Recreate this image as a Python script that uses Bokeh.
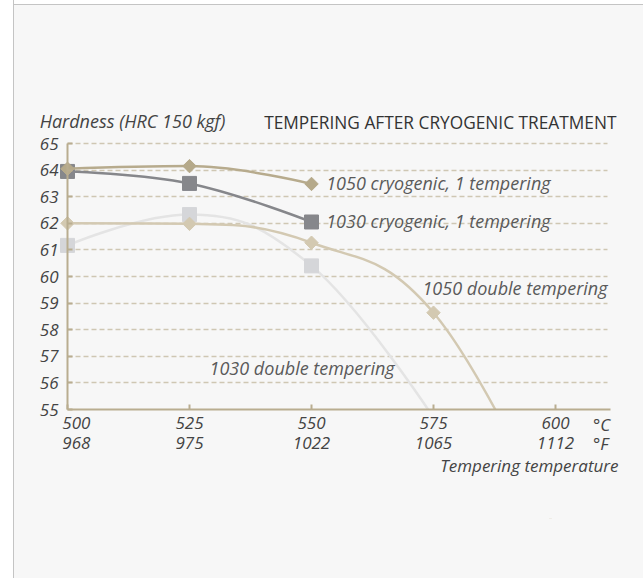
import numpy as np
from bokeh.plotting import figure
from bokeh.models import ColumnDataSource, FixedTicker, Label, Range1d, BoxAnnotation
from bokeh.embed import file_html
from bokeh.resources import INLINE

# ---------------- data ----------------
temps_c = [500, 525, 550, 575, 600]
temps_f = [968, 975, 1022, 1065, 1112]
hardness_ticks = [55, 56, 57, 58, 59, 60, 61, 62, 63, 64, 65]

t_1050_cryo = [500, 525, 550]
h_1050_cryo = [64.05, 64.15, 63.48]

t_1030_cryo = [500, 525, 550]
h_1030_cryo = [63.95, 63.5, 62.05]

t_1050_double = [500, 525, 550, 575, 600]
h_1050_double = [62.0, 61.98, 61.27, 58.64, 50.5]

t_1030_double = [500, 525, 550, 575]
h_1030_double = [61.17, 62.33, 60.4, 54.7]

label_1050_cryo = "1050 cryogenic, 1 tempering"
label_1030_cryo = "1030 cryogenic, 1 tempering"
label_1050_double = "1050 double tempering"
label_1030_double = "1030 double tempering"


# ---------------- helpers ----------------
def spline_source(xs, ys, smoothing=1.5):
    n = len(xs)
    left = [(xs[i], ys[i]) for i in range(n)]
    right = [(xs[i], ys[i]) for i in range(n)]
    for i in range(1, n - 1):
        d = smoothing + 1
        lx = (smoothing * xs[i] + xs[i - 1]) / d
        ly = (smoothing * ys[i] + ys[i - 1]) / d
        rx = (smoothing * xs[i] + xs[i + 1]) / d
        ry = (smoothing * ys[i] + ys[i + 1]) / d
        corr = ((ry - ly) * (rx - xs[i])) / (rx - lx) + ys[i] - ry
        ly += corr
        ry += corr
        py, lasty, nexty = ys[i], ys[i - 1], ys[i + 1]
        if ly > lasty and ly > py:
            ly = max(lasty, py); ry = 2 * py - ly
        elif ly < lasty and ly < py:
            ly = min(lasty, py); ry = 2 * py - ly
        if ry > nexty and ry > py:
            ry = max(nexty, py); ly = 2 * py - ry
        elif ry < nexty and ry < py:
            ry = min(nexty, py); ly = 2 * py - ry
        left[i] = (lx, ly)
        right[i] = (rx, ry)
    d = dict(x0=[], y0=[], x1=[], y1=[], cx0=[], cy0=[], cx1=[], cy1=[])
    for i in range(1, n):
        d["x0"].append(xs[i - 1]); d["y0"].append(ys[i - 1])
        d["x1"].append(xs[i]); d["y1"].append(ys[i])
        d["cx0"].append(right[i - 1][0]); d["cy0"].append(right[i - 1][1])
        d["cx1"].append(left[i][0]); d["cy1"].append(left[i][1])
    return ColumnDataSource(d)


FONT = "Open Sans"
AXIS_COLOR = "#b9ad90"
GRID_COLOR = "#cfc7b3"
BG = "#f7f7f7"

X_START, X_END = 492.008, 615.98
Y_START, Y_END = 50.903, 66.617

page_background = (
    "linear-gradient(to right, #ffffff 0px, #ffffff 13px, #c4c4c4 13px, #c4c4c4 14px, transparent 14px), "
    "linear-gradient(to bottom, #ffffff 0px, #ffffff 4px, #c4c4c4 4px, #c4c4c4 5px, #f7f7f7 5px)"
)

p = figure(
    frame_width=605, frame_height=418,
    min_border_left=28, min_border_right=10, min_border_top=100, min_border_bottom=60,
    x_range=Range1d(X_START, X_END), y_range=Range1d(Y_START, Y_END),
    output_backend="svg", toolbar_location=None,
    background_fill_color=BG, border_fill_color=None,
    outline_line_color=None,
    styles={"background": page_background},
)

# x axis
xa = p.xaxis[0]
xa.fixed_location = 55
xa.ticker = FixedTicker(ticks=temps_c)
nb = "\u00a0" * 4
overrides = {}
for c, f in zip(temps_c, temps_f):
    overrides[c] = f"{c}\n{f}" if c != 500 else f"{nb}{c}\n{nb}{f}"
xa.major_label_overrides = overrides
xa.bounds = (500, 611.27)
xa.axis_line_color = AXIS_COLOR
xa.axis_line_width = 2
xa.major_tick_in = 5
xa.major_tick_out = 0
xa.major_tick_line_color = AXIS_COLOR
xa.major_tick_line_width = 2
xa.minor_tick_line_color = None
xa.major_label_standoff = 1
xa.major_label_text_font = FONT
xa.major_label_text_font_style = "italic"
xa.major_label_text_font_size = "17px"
xa.major_label_text_line_height = 0.9
xa.major_label_text_color = "#444444"

# y axis
ya = p.yaxis[0]
ya.ticker = FixedTicker(ticks=hardness_ticks)
ya.fixed_location = 500
ya.bounds = (55, 65)
ya.axis_line_color = AXIS_COLOR
ya.axis_line_width = 2
ya.major_tick_in = 5
ya.major_tick_out = 0
ya.major_tick_line_color = AXIS_COLOR
ya.major_tick_line_width = 2
ya.minor_tick_line_color = None
ya.major_label_standoff = 9
ya.major_label_text_font = FONT
ya.major_label_text_font_style = "italic"
ya.major_label_text_font_size = "17px"
ya.major_label_text_color = "#444444"

p.xgrid.grid_line_color = None
p.ygrid.ticker = FixedTicker(ticks=hardness_ticks[1:])
p.ygrid.grid_line_color = GRID_COLOR
p.ygrid.grid_line_dash = "5 3"
p.ygrid.grid_line_width = 1.3
p.ygrid.cross_bounds = (500, 610.66)

# series
series = [
    (t_1030_double, h_1030_double, "#e4e4e4", "#d5d6d9", "square", 14, 0.0),
    (t_1050_double, h_1050_double, "#d3c9b2", "#d3c9b1", "square", 9.5, np.pi / 4),
    (t_1030_cryo, h_1030_cryo, "#86878b", "#86878b", "square", 14, 0.0),
    (t_1050_cryo, h_1050_cryo, "#b7ab8d", "#b5a98a", "square", 9.5, np.pi / 4),
]
for xs, ys, lc, mc, mk, sz, ang in series:
    src = spline_source(xs, ys)
    p.bezier(x0="x0", y0="y0", x1="x1", y1="y1", cx0="cx0", cy0="cy0", cx1="cx1", cy1="cy1",
             source=src, line_color=lc, line_width=2.5)
    p.scatter(x=xs, y=ys, marker=mk, size=sz, angle=ang, fill_color=mc, line_color=mc, line_width=1)

# hide everything that falls below the 55 HRC axis (plot-area clipping)
p.add_layout(BoxAnnotation(top=55, bottom=Y_START - 10, left=X_START - 10, right=X_END + 10,
                           fill_color=BG, fill_alpha=1.0, line_color=None, level="glyph"))


def add_label(text, x, y, align="left", size="18px", style="italic", color="#5a5a5a"):
    p.add_layout(Label(x=x, y=y, text=text, text_align=align, text_baseline="middle",
                       text_font=FONT, text_font_style=style, text_font_size=size,
                       text_color=color))


add_label(label_1050_cryo, 553.0, 63.50)
add_label(label_1030_cryo, 553.0, 62.07)
add_label(label_1050_double, 610.66, 59.56, align="right")
add_label(label_1030_double, 529.1, 56.57)

add_label("Hardness (HRC 150 kgf)", 494.3, 65.83, size="18px", color="#444444")
add_label("TEMPERING AFTER CRYOGENIC TREATMENT", 540.3, 65.80, size="17.3px", style="normal", color="#333333")
add_label("°C", 607.7, 54.45, size="17px", color="#444444")
add_label("°F", 607.7, 53.71, size="17px", color="#444444")
add_label("Tempering temperature", 612.9, 52.89, align="right", size="17px", color="#444444")

open("out.html", "w").write(file_html(p, INLINE))
